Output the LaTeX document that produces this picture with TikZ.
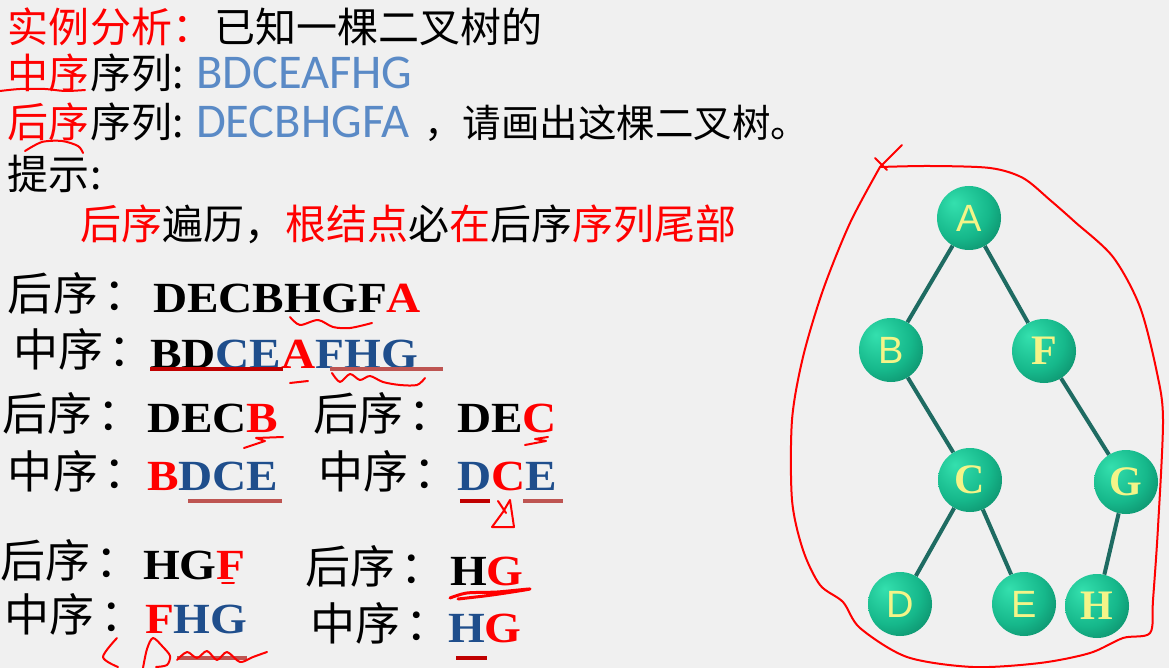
\documentclass[tikz,border=0pt]{standalone}
\usepackage{fontspec}
\setmainfont{Liberation Serif}
\newfontfamily\cjk{Noto Sans CJK SC}
\newfontfamily\cali{Carlito}
\newfontfamily\tnr[FakeStretch=1.1]{Liberation Serif}
\newfontfamily\arialf{Liberation Sans}
\definecolor{bgc}{HTML}{F0F0F0}
\definecolor{myred}{HTML}{FF0000}
\definecolor{lblue}{HTML}{5A8AC6}
\definecolor{dblue}{HTML}{1F4E8C}
\definecolor{dred}{HTML}{C00000}
\definecolor{mred}{HTML}{BE5552}
\definecolor{nlight}{HTML}{34E0AE}
\definecolor{nmid}{HTML}{16B88B}
\definecolor{ndark}{HTML}{08785A}
\definecolor{edgec}{HTML}{1E6B62}
\definecolor{ntext}{HTML}{F4F488}
\pgfdeclareradialshading{nodeball}{\pgfpoint{-12bp}{12bp}}{color(0bp)=(nlight); color(24bp)=(nmid); color(45bp)=(ndark); color(75bp)=(ndark)}
\pgfdeclarelayer{bgl}
\pgfdeclarelayer{edges}
\pgfsetlayers{bgl,edges,main}
\newcommand\topcjk{\cjk\fontsize{41pt}{41pt}\selectfont}
\newcommand\topcjksmall{\cjk\fontsize{38.5pt}{38.5pt}\selectfont}
\newcommand\toplat{\cali\fontsize{48.5pt}{48.5pt}\selectfont}
\newcommand\lowcjk{\cjk\fontsize{45pt}{45pt}\selectfont}
\newcommand\lowlat{\tnr\bfseries\fontsize{43pt}{43pt}\selectfont}
\newcommand\nodesans{\arialf\fontsize{38pt}{38pt}\selectfont}
\newcommand\nodeserif{\bfseries\fontsize{42pt}{42pt}\selectfont}
\newcommand\hx{后序\kern6pt：}
\newcommand\zx{中序\kern6pt：}
\begin{document}
\begin{tikzpicture}[x=1pt,y=-1pt,
  txt/.style={anchor=base west, inner sep=0pt, outer sep=0pt},
  tnode/.style={circle, minimum size=64pt, inner sep=0pt, shading=nodeball, text=ntext},
  tedge/.style={draw=edgec, line width=4pt},
  hand/.style={draw=myred, line width=2pt, line cap=round, line join=round},
  uline/.style={line width=4pt}]
\begin{pgfonlayer}{bgl}
\fill[bgc] (0,0) rectangle (1169,668);
\end{pgfonlayer}
\useasboundingbox (0,0) rectangle (1169,668);

% ---------- top text ----------
\node[txt,text=myred,font=\topcjk] (t1a) at (8,43) {实例分析：};
\node[txt,font=\topcjk] (t1b) at (214,43) {已知一棵二叉树的};
\node[txt,font=\topcjk] (t2a) at (8,89) {\textcolor{myred}{中序}序列:};
\node[txt,text=lblue,font=\toplat] (t2b) at (196,89) {BDCEAFHG};
\node[txt,font=\topcjk] (t3a) at (8,138) {\textcolor{myred}{后序}序列:};
\node[txt,text=lblue,font=\toplat] (t3b) at (196,138) {DECBHGFA};
\node[txt,font=\topcjksmall] (t3c) at (424,138) {，请画出这棵二叉树。};
\node[txt,font=\topcjk] (t4) at (8,190) {提示:};
\node[txt,font=\topcjk] (t5) at (80,240) {\textcolor{myred}{后序}遍历，\textcolor{myred}{根结点}必\textcolor{myred}{在}后序\textcolor{myred}{序列尾部}};

\draw[hand] plot[smooth] coordinates {(0,91) (20,89) (45,89) (65,91) (85,90)};
\draw[hand] plot[smooth] coordinates {(25,151) (42,142) (62,141) (78,146) (83,153)};

% ---------- lower text ----------
\node[txt,font=\lowcjk] (l1a) at (8,310) {\hx};
\node[txt,font=\lowlat] (l1b) at (153,312) {DECBHGF\textcolor{myred}{A}};
\node[txt,font=\lowcjk] (l2a) at (13,366) {\zx};
\node[txt,font=\lowlat] (l2b) at (150,368) {BD\textcolor{dblue}{CE}\textcolor{myred}{A}\textcolor{dblue}{FHG}};
\node[txt,font=\lowcjk] (l3a) at (2,430) {\hx};
\node[txt,font=\lowlat] (l3b) at (147,432) {DEC\textcolor{myred}{B}};
\node[txt,font=\lowcjk] (l3c) at (313,430) {\hx};
\node[txt,font=\lowlat] (l3d) at (457,432) {DE\textcolor{myred}{C}};
\node[txt,font=\lowcjk] (l4a) at (8,488) {\zx};
\node[txt,font=\lowlat] (l4b) at (147,490) {\textcolor{myred}{B}\textcolor{dblue}{DCE}};
\node[txt,font=\lowcjk] (l4c) at (318,488) {\zx};
\node[txt,font=\lowlat] (l4d) at (457,490) {\textcolor{dblue}{D}\textcolor{myred}{C}\textcolor{dblue}{E}};
\node[txt,font=\lowcjk] (l5a) at (0,577) {\hx};
\node[txt,font=\lowlat] (l5b) at (143,579) {HG\textcolor{myred}{F}};
\node[txt,font=\lowcjk] (l5c) at (305,583) {\hx};
\node[txt,font=\lowlat] (l5d) at (450,585) {H\textcolor{myred}{G}};
\node[txt,font=\lowcjk] (l6a) at (5,631) {\zx};
\node[txt,font=\lowlat] (l6b) at (145,633) {\textcolor{myred}{F}\textcolor{dblue}{HG}};
\node[txt,font=\lowcjk] (l6c) at (310,640) {\zx};
\node[txt,font=\lowlat] (l6d) at (448,642) {\textcolor{dblue}{H}\textcolor{myred}{G}};

% underlines
\draw[uline,dred] (150,369) -- (283,369);
\draw[uline,mred] (330,369) -- (443,369);
\draw[uline,mred] (188,501) -- (282,501);
\draw[uline,dred] (460,501) -- (490,501);
\draw[uline,mred] (523,501) -- (563,501);
\draw[uline,mred] (177,658) -- (247,658);
\draw[uline,dred] (456,658) -- (487,658);

% hand annotations
\draw[hand] plot[smooth] coordinates {(290,317) (300,325) (318,320) (333,327) (350,328) (372,323)};
\draw[hand] (290,383) -- (308,381);
\draw[hand] plot[smooth] coordinates {(332,373) (340,382) (350,374) (360,380) (370,376) (383,382) (400,385) (417,385) (425,378)};
\draw[hand] (244,448) -- (265,441) -- (256,438) -- (283,437);
\draw[hand] (525,445) -- (546,441) -- (535,439) -- (548,437);
\draw[hand] (498,501) -- (506,513);
\draw[hand] (510,500) -- (503,512) -- (492,527) -- (514,527) -- cycle;
\draw[hand] (222,583) -- (234,583);
\draw[hand, line width=3pt] plot[smooth] coordinates {(450,598) (467,593) (497,592) (530,589) (492,595) (458,599)};
\draw[hand] plot[smooth] coordinates {(117,638) (103,657) (118,667)};
\draw[hand] plot[smooth] coordinates {(143,668) (147,649) (153,638) (163,647) (170,656) (167,665) (156,667)};
\draw[hand] plot[smooth] coordinates {(177,660) (187,652) (197,658) (207,651) (217,660) (227,652) (240,662) (253,657) (267,652)};

% ---------- tree ----------
\node[tnode,font=\nodesans] (A) at (969,218) {A};
\node[tnode,font=\nodesans] (B) at (891,350) {B};
\node[tnode,font=\nodeserif] (F) at (1044,351) {F};
\node[tnode,font=\nodeserif] (C) at (970,480) {C};
\node[tnode,font=\nodeserif] (G) at (1126,482) {G};
\node[tnode,font=\nodesans] (D) at (900,604) {D};
\node[tnode,font=\nodesans] (E) at (1024,604) {E};
\node[tnode,font=\nodeserif] (H) at (1097,606) {H};
\begin{pgfonlayer}{edges}
\draw[tedge] (A) -- (B);
\draw[tedge] (A) -- (F);
\draw[tedge] (B) -- (C);
\draw[tedge] (F) -- (G);
\draw[tedge] (C) -- (D);
\draw[tedge] (C) -- (E);
\draw[tedge] (G) -- (H);
\end{pgfonlayer}

% red loop around tree
\draw[hand] plot[smooth] coordinates {(880,167) (930,166) (990,168) (1023,178) (1050,200) (1075,222) (1113,257) (1140,307) (1157,373) (1163,420) (1158,527) (1153,600) (1150,633) (1123,638) (1090,653) (1040,663) (973,667) (907,657) (860,628) (843,602) (820,585) (803,550) (792,500) (792,420) (803,357) (823,290) (850,223) (880,167)};
\draw[hand] (880,167) -- (902,145);
\draw[hand] (875,158) -- (887,170);
\end{tikzpicture}
\end{document}
